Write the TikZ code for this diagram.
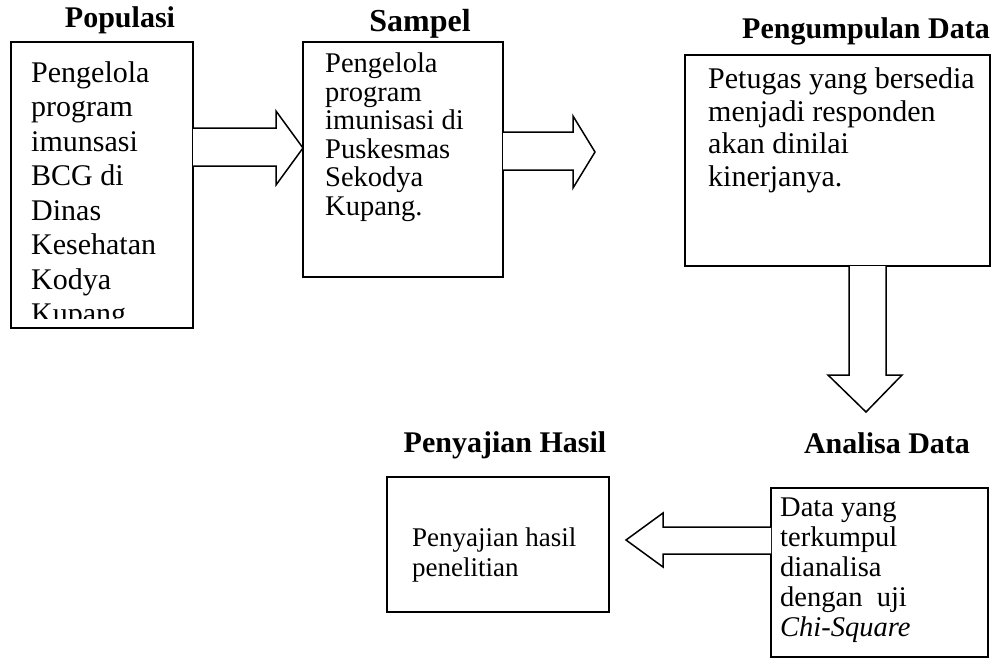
\documentclass[tikz,border=0pt]{standalone}
\usepackage{fontspec}
\setmainfont{Liberation Serif}
\begin{document}
\begin{tikzpicture}[x=1pt,y=-1pt,
  box/.style={draw=black, line width=1.5pt, inner sep=0pt, outer sep=0pt, anchor=north west},
  title/.style={font=\fontsize{30}{36}\selectfont\bfseries, anchor=base, inner sep=0pt},
  body/.style={align=left, anchor=north west, inner sep=0pt},
  barrow/.style={draw=black, line width=1.5pt, line join=miter, fill=white}]
\useasboundingbox (0,0) rectangle (993,664);

% titles
\node[title] (h1) at (120,27) {Populasi};
\node[title, font=\fontsize{32}{36}\selectfont\bfseries] (h2) at (420,31) {Sampel};
\node[title] (h3) at (866,38) {Pengumpulan Data};
\node[title] (h4) at (505,452) {Penyajian Hasil};
\node[title] (h5) at (887,453) {Analisa Data};

% texts
\begin{scope}
\clip (11,42) rectangle (193,318);
\node[body, font=\fontsize{30}{34.5}\selectfont] (t1) at (31,61) {Pengelola\\program\\imunsasi\\BCG di\\Dinas\\Kesehatan\\Kodya\\Kupang};
\end{scope}
\node[body, font=\fontsize{28.5}{28.5}\selectfont] (t2) at (325,53) {Pengelola\\program\\imunisasi di\\Puskesmas\\Sekodya\\Kupang.};
\node[body, font=\fontsize{30}{32.5}\selectfont] (t3) at (708,67.5) {Petugas yang bersedia\\menjadi responden\\akan dinilai\\kinerjanya.};
\node[body, font=\fontsize{28.5}{30}\selectfont] (t4) at (780,498) {Data yang\\terkumpul\\dianalisa\\dengan~~uji\\\textit{Chi-Square}};
\node[body, font=\fontsize{27}{30}\selectfont] (t5) at (412,528) {Penyajian hasil\\penelitian};

% boxes
\node[box, minimum width=182pt, minimum height=286pt] (b1) at (11,42) {};
\node[box, minimum width=200pt, minimum height=235pt] (b2) at (303,42) {};
\node[box, minimum width=305pt, minimum height=211pt] (b3) at (685,55) {};
\node[box, minimum width=217pt, minimum height=169pt] (b4) at (771,488) {};
\node[box, minimum width=222pt, minimum height=135pt] (b5) at (387,477) {};

% block arrows
\draw[barrow] (b1.east |- 0,128) -- (276,128) -- (276,111) -- (b2.west |- 0,148)
  -- (276,185) -- (276,166) -- (b1.east |- 0,166);
\coordinate (tip2) at (595,152);
\draw[barrow] (b2.east |- 0,132) -- (573,132) -- (573,116) -- (tip2)
  -- (573,188) -- (573,170) -- (b2.east |- 0,170);
\coordinate (tip3) at (866,412);
\draw[barrow] (849,0 |- b3.south) -- (849,375) -- (828,375) -- (tip3)
  -- (902,375) -- (886,375) -- (886,0 |- b3.south);
\coordinate (tip4) at (626,540);
\draw[barrow] (b4.west |- 0,527) -- (663,527) -- (663,513) -- (tip4)
  -- (663,567) -- (663,554) -- (b4.west |- 0,554);
\end{tikzpicture}
\end{document}
